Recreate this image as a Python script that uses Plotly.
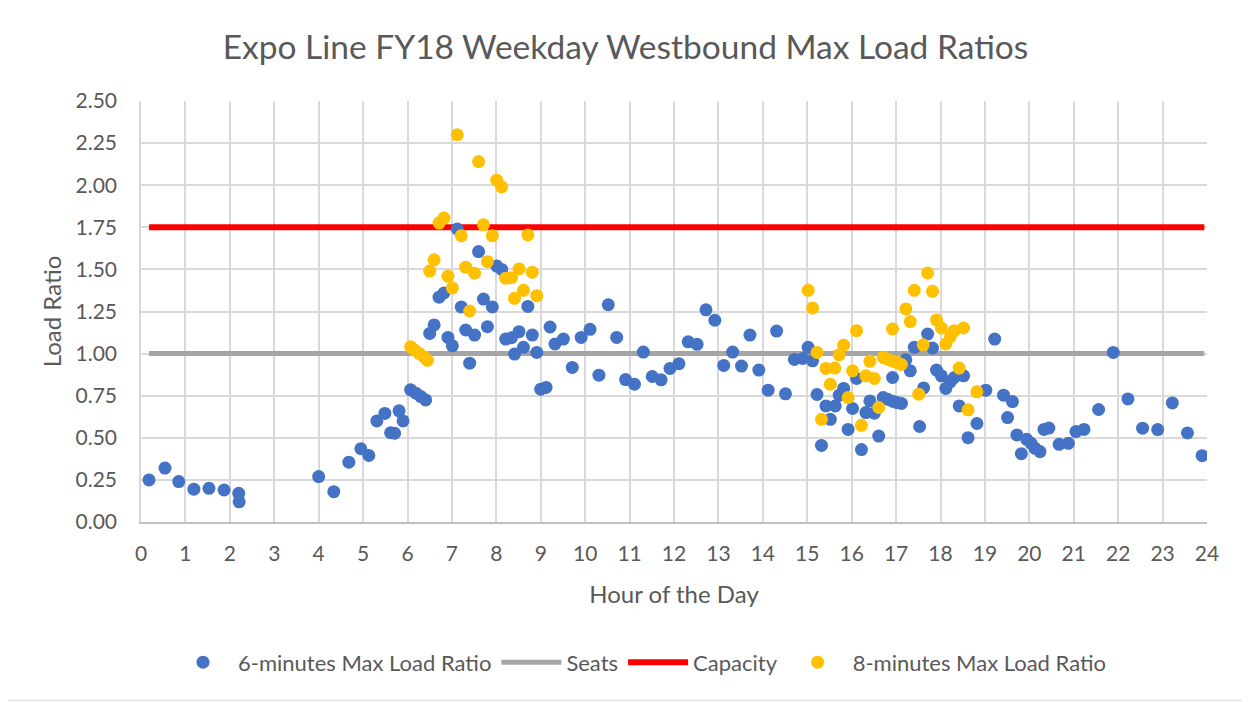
import plotly.graph_objects as go

# ---- data ----
hours_6min = [0.18, 0.54, 0.85, 1.19, 1.53, 1.87, 2.20, 2.21, 4.00, 4.34, 4.68, 4.95, 5.13, 5.31, 5.49,
              5.62, 5.71, 5.81, 5.90, 6.07, 6.19, 6.30, 6.41, 6.50, 6.60, 6.71, 6.82, 6.91, 7.01, 7.12,
              7.21, 7.31, 7.40, 7.51, 7.60, 7.71, 7.80, 7.91, 8.01, 8.12, 8.21, 8.34, 8.41, 8.51, 8.61,
              8.71, 8.81, 8.91, 9.00, 9.12, 9.21, 9.32, 9.51, 9.71, 9.91, 10.11, 10.31, 10.52, 10.71,
              10.91, 11.11, 11.31, 11.51, 11.71, 11.91, 12.11, 12.32, 12.52, 12.72, 12.92, 13.12, 13.32,
              13.52, 13.71, 13.91, 14.12, 14.31, 14.51, 14.71, 14.90, 15.02, 15.12, 15.22, 15.32, 15.42,
              15.52, 15.63, 15.72, 15.82, 15.92, 16.02, 16.11, 16.22, 16.32, 16.41, 16.51, 16.61, 16.71,
              16.81, 16.92, 16.92, 17.02, 17.12, 17.22, 17.32, 17.41, 17.53, 17.62, 17.71, 17.82, 17.91,
              18.02, 18.12, 18.22, 18.31, 18.42, 18.52, 18.62, 18.82, 19.02, 19.22, 19.42, 19.51, 19.62,
              19.72, 19.82, 19.94, 20.04, 20.13, 20.24, 20.33, 20.44, 20.67, 20.88, 21.05, 21.23, 21.56,
              21.89, 22.22, 22.55, 22.89, 23.22, 23.56, 23.89]
ratio_6min = [0.25, 0.32, 0.24, 0.195, 0.20, 0.19, 0.17, 0.12, 0.27, 0.18, 0.355, 0.435, 0.395, 0.60, 0.645,
              0.53, 0.527, 0.66, 0.60, 0.785, 0.765, 0.745, 0.725, 1.12, 1.17, 1.335, 1.36, 1.096, 1.046, 1.74,
              1.277, 1.14, 0.943, 1.11, 1.606, 1.324, 1.16, 1.277, 1.52, 1.50, 1.086, 1.094, 0.997, 1.13, 1.037,
              1.28, 1.11, 1.007, 0.789, 0.799, 1.158, 1.057, 1.086, 0.918, 1.096, 1.144, 0.872, 1.29, 1.096,
              0.846, 0.818, 1.009, 0.864, 0.844, 0.912, 0.94, 1.07, 1.055, 1.26, 1.198, 0.93, 1.009,
              0.926, 1.11, 0.902, 0.783, 1.134, 0.761, 0.965, 0.971, 1.037, 0.957, 0.757, 0.455, 0.689,
              0.61, 0.689, 0.753, 0.793, 0.55, 0.674, 0.852, 0.43, 0.65, 0.719, 0.646, 0.51, 0.739,
              0.729, 0.717, 0.858, 0.709, 0.704, 0.963, 0.898, 1.037, 0.567, 0.796, 1.116, 1.033, 0.902,
              0.868, 0.793, 0.832, 0.858, 0.689, 0.868, 0.501, 0.585, 0.783, 1.086, 0.753, 0.62, 0.715,
              0.517, 0.406, 0.491, 0.467, 0.4375, 0.418, 0.55, 0.558, 0.461, 0.467, 0.537, 0.55, 0.668,
              1.007, 0.731, 0.557, 0.549, 0.707, 0.529, 0.394]

hours_8min = [6.07, 6.17, 6.27, 6.37, 6.45, 6.50, 6.60, 6.71, 6.82, 6.91, 7.01, 7.12, 7.21, 7.31, 7.40,
              7.51, 7.60, 7.71, 7.80, 7.91, 8.01, 8.12, 8.21, 8.34, 8.41, 8.51, 8.61, 8.71, 8.81, 8.91,
              15.02, 15.12, 15.22, 15.32, 15.42, 15.52, 15.62, 15.72, 15.82, 15.92, 16.02, 16.11, 16.22,
              16.32, 16.41, 16.51, 16.61, 16.71, 16.81, 16.92, 16.92, 17.02, 17.12, 17.22, 17.32, 17.41,
              17.51, 17.61, 17.71, 17.82, 17.91, 18.02, 18.12, 18.22, 18.31, 18.42, 18.52, 18.62, 18.82]
ratio_8min = [1.04, 1.02, 1.00, 0.98, 0.96, 1.49, 1.557, 1.775, 1.805, 1.46, 1.39, 2.30, 1.70, 1.513, 1.253,
              1.477, 2.14, 1.765, 1.546, 1.70, 2.03, 1.99, 1.448, 1.451, 1.328, 1.503, 1.376, 1.705, 1.483, 1.344,
              1.376, 1.271, 1.007, 0.61, 0.912, 0.818, 0.914, 0.993, 1.05, 0.739, 0.898, 1.136, 0.574,
              0.868, 0.954, 0.852, 0.68, 0.977, 0.967, 0.955, 1.146, 0.948, 0.936, 1.265, 1.19, 1.376,
              0.759, 1.052, 1.479, 1.37, 1.2, 1.152, 1.057, 1.10, 1.136, 0.914, 1.152, 0.666, 0.773]

line_hours = [0.18, 23.94]
seats_ratio = [1.0, 1.0]
capacity_ratio = [1.75, 1.75]

y_ticks = [0, 0.25, 0.5, 0.75, 1.0, 1.25, 1.5, 1.75, 2.0, 2.25, 2.5]
x_ticks = list(range(0, 25))

FONT = "Lato"
TXT = "#595959"
GRID = "#d9d9d9"

# plot area in figure pixels (page is offset by 8px body margin)
L, R, T, B = 133, 1199, 93, 514.5
W, H = R - L, B - T

fig = go.Figure()
fig.add_trace(go.Scatter(x=line_hours, y=seats_ratio, mode="lines", name="Seats",
                         line=dict(color="#a5a5a5", width=5), legendrank=2))
fig.add_trace(go.Scatter(x=line_hours, y=capacity_ratio, mode="lines", name="Capacity",
                         line=dict(color="#ff0000", width=6), legendrank=3))
fig.add_trace(go.Scatter(x=hours_6min, y=ratio_6min, mode="markers", name="6-minutes Max Load Ratio",
                         marker=dict(color="#4472c4", size=13), legendrank=1))
fig.add_trace(go.Scatter(x=hours_8min, y=ratio_8min, mode="markers", name="8-minutes Max Load Ratio",
                         marker=dict(color="#ffc000", size=13), legendrank=4))

fig.update_layout(
    width=1250, height=702,
    paper_bgcolor="white", plot_bgcolor="white",
    margin=dict(l=L, r=1250 - R, t=T, b=702 - B),
    font=dict(family=FONT, color=TXT, size=16),
    title=dict(text="Expo Line FY18 Weekday Westbound Max Load Ratios",
               xref="container", x=617.5 / 1250, xanchor="center",
               yref="container", y=1 - 39 / 702, yanchor="middle",
               font=dict(size=33.5, color=TXT, family=FONT)),
    showlegend=True,
    legend=dict(orientation="h", x=(632 - L) / W, xanchor="center", y=(B - 655) / H, yanchor="middle",
                font=dict(size=22, color=TXT), itemwidth=60, traceorder="normal"),
    xaxis=dict(range=[0, 24], tickvals=x_ticks, showgrid=True, gridcolor=GRID, gridwidth=1.5,
               zeroline=False, showline=True, linecolor="#bfbfbf", linewidth=1.5,
               ticks="", tickfont=dict(size=21, color=TXT), ticklabelstandoff=12,
               title=dict(text="Hour of the Day", font=dict(size=24, color=TXT), standoff=22)),
    yaxis=dict(range=[0, 2.5], tickvals=y_ticks, tickformat=".2f", showgrid=True, gridcolor=GRID,
               gridwidth=1.5, zeroline=False, showline=True, linecolor=GRID, linewidth=1.5,
               ticks="", tickfont=dict(size=21, color=TXT), ticklabelstandoff=18,
               title=dict(text="Load Ratio", font=dict(size=24, color=TXT), standoff=7)),
    shapes=[dict(type="rect", xref="paper", yref="paper",
                 x0=(-20 - L) / W, x1=(1240.5 - L) / W, y0=(B - 693) / H, y1=(B + 20) / H,
                 line=dict(color="#d9d9d9", width=1), layer="below")],
)

fig.write_html("out.html")
